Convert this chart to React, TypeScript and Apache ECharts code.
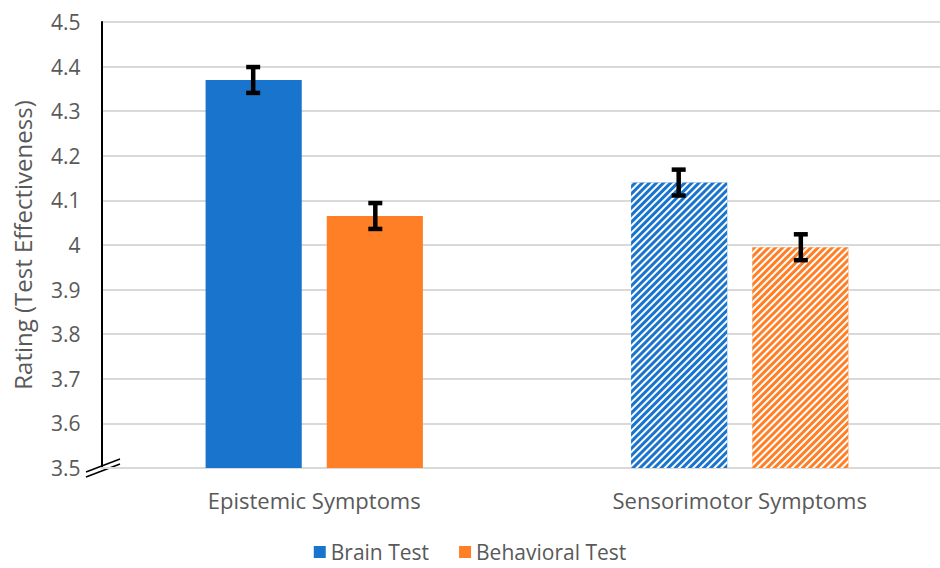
import React, { useEffect, useRef } from "react";
import * as echarts from "echarts";

const categories = ["Epistemic Symptoms", "Sensorimotor Symptoms"];
const brainValues = [4.37, 4.14];
const behavioralValues = [4.065, 3.995];
const brainErrors = [0.029, 0.029];
const behavioralErrors = [0.029, 0.029];
const yTicks = { min: 3.5, max: 4.5, interval: 0.1 };
const seriesNames = ["Brain Test", "Behavioral Test"];

const BLUE = "#1874CD";
const ORANGE = "#FF7F27";
const FONT = "Open Sans";
const TEXT = "#595959";

const hatch = {
  symbol: "rect",
  color: "#ffffff",
  dashArrayX: [1, 0],
  dashArrayY: [1.8, 2.6],
  rotation: -Math.PI / 4,
};

export default function App() {
  const ref = useRef<HTMLDivElement>(null);
  useEffect(() => {
    const chart = echarts.init(ref.current!, null, { renderer: "svg" });
    const errData: any[] = [];
    brainValues.forEach((v, i) => errData.push([i, v, brainErrors[i], -1]));
    behavioralValues.forEach((v, i) => errData.push([i, v, behavioralErrors[i], 1]));

    chart.setOption({
      animation: false,
      textStyle: { fontFamily: FONT },
      grid: { left: 101.5, top: 22, width: 851, bottom: 100, outerBoundsMode: "none", containLabel: false },
      legend: {
        bottom: 3,
        left: "center",
        padding: 0,
        itemWidth: 12,
        itemHeight: 12,
        itemGap: 30,
        icon: "rect",
        textStyle: { fontSize: 21, lineHeight: 26, color: TEXT, fontFamily: FONT },
        data: seriesNames,
      },
      xAxis: {
        type: "category",
        data: categories,
        axisLine: { lineStyle: { color: "#d9d9d9", width: 2 } },
        axisTick: { show: false },
        axisLabel: { fontSize: 22, color: TEXT, margin: 21, fontFamily: FONT },
      },
      yAxis: {
        type: "value",
        min: yTicks.min,
        max: yTicks.max,
        interval: yTicks.interval,
        name: "Rating (Test Effectiveness)",
        nameLocation: "middle",
        nameGap: 67,
        nameTextStyle: { fontSize: 24, color: TEXT, fontFamily: FONT },
        axisLine: { show: true, lineStyle: { color: "#000", width: 2 } },
        axisTick: { show: false },
        splitLine: { lineStyle: { color: "#d9d9d9", width: 2 } },
        axisLabel: {
          fontSize: 21,
          color: TEXT,
          margin: 21,
          fontFamily: FONT,
          formatter: (v: number) => String(Math.round(v * 10) / 10),
        },
      },
      series: [
        {
          name: seriesNames[0],
          type: "bar",
          barWidth: "22.6%",
          barGap: "26%",
          itemStyle: { color: BLUE },
          data: brainValues.map((v, i) =>
            i === 1 ? { value: v, itemStyle: { color: BLUE, decal: hatch } } : v
          ),
        },
        {
          name: seriesNames[1],
          type: "bar",
          barWidth: "22.6%",
          barGap: "26%",
          itemStyle: { color: ORANGE },
          data: behavioralValues.map((v, i) =>
            i === 1 ? { value: v, itemStyle: { color: ORANGE, decal: hatch } } : v
          ),
        },
        {
          type: "custom",
          z: 10,
          data: errData,
          encode: { x: 0, y: 1 },
          renderItem: (params: any, api: any) => {
            const idx = api.value(0);
            const v = api.value(1);
            const e = api.value(2);
            const side = api.value(3);
            const band = api.size([1, 0])[0];
            const off = side * band * 0.1435;
            const hi = api.coord([idx, v + e]);
            const lo = api.coord([idx, v - e]);
            const x = hi[0] + off;
            const cap = 7;
            const st = { stroke: "#000", lineWidth: 4.5 };
            return {
              type: "group",
              children: [
                { type: "line", shape: { x1: x, y1: hi[1], x2: x, y2: lo[1] }, style: st },
                { type: "line", shape: { x1: x - cap, y1: hi[1], x2: x + cap, y2: hi[1] }, style: st },
                { type: "line", shape: { x1: x - cap, y1: lo[1], x2: x + cap, y2: lo[1] }, style: st },
              ],
            };
          },
        },
      ],
      graphic: [
        { type: "line", shape: { x1: 86, y1: 472, x2: 120, y2: 459 }, style: { stroke: "#000", lineWidth: 1.5 } },
        { type: "line", shape: { x1: 86, y1: 477, x2: 120, y2: 464 }, style: { stroke: "#000", lineWidth: 1.5 } },
      ],
    });
    return () => chart.dispose();
  }, []);
  return <div ref={ref} style={{ width: 940, height: 568, position: "absolute", left: 0, top: 0 }} />;
}
